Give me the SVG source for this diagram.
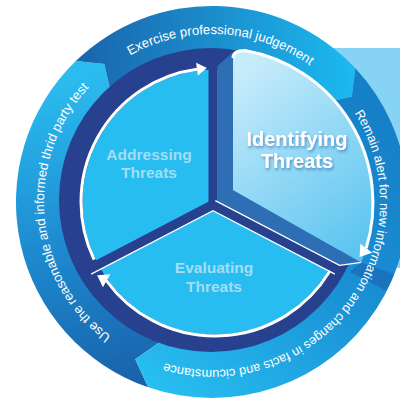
<svg xmlns="http://www.w3.org/2000/svg" width="400" height="400" viewBox="0 0 400 400">
<defs>
  <linearGradient id="gL" gradientUnits="userSpaceOnUse" x1="150" y1="380" x2="90" y2="75">
    <stop offset="0" stop-color="#1862ab"/><stop offset="0.5" stop-color="#1e8cd1"/><stop offset="1" stop-color="#2bbcef"/>
  </linearGradient>
  <linearGradient id="gT" gradientUnits="userSpaceOnUse" x1="90" y1="70" x2="350" y2="80">
    <stop offset="0" stop-color="#1a68af"/><stop offset="1" stop-color="#1cb8ef"/>
  </linearGradient>
  <linearGradient id="gR" gradientUnits="userSpaceOnUse" x1="370" y1="110" x2="150" y2="380">
    <stop offset="0" stop-color="#1580c7"/><stop offset="0.45" stop-color="#1a90d5"/><stop offset="1" stop-color="#27bef0"/>
  </linearGradient>
  <linearGradient id="gFace" gradientUnits="userSpaceOnUse" x1="235" y1="80" x2="370" y2="250">
    <stop offset="0" stop-color="#c6ebfb"/><stop offset="1" stop-color="#58c3ef"/>
  </linearGradient>
  <clipPath id="ringClip"><circle cx="212" cy="202" r="196"/></clipPath>
  <filter id="sh" x="-20%" y="-20%" width="140%" height="160%">
    <feDropShadow dx="1" dy="2" stdDeviation="1.5" flood-color="#1b5c9c" flood-opacity="0.6"/>
  </filter>
  <path id="tpL" d="M 110.9 336.2 A 168 168 0 0 1 104.0 73.3"/>
  <path id="tpT" d="M 130.0 55.4 A 168 168 0 0 1 324.4 77.2"/>
  <path id="tpR" d="M 354.5 113.0 A 168 168 0 0 1 149.1 357.8"/>
</defs>
<style>
  .ring-text{font-family:"Liberation Sans",Arial,sans-serif;font-size:13.1px;fill:#ffffff}
  .ring-text-r{font-family:"Liberation Sans",Arial,sans-serif;font-size:12.8px;fill:#ffffff}
  .sector-label{font-family:"Liberation Sans",Arial,sans-serif;font-weight:bold;font-size:15.5px;fill:#a3ddf6;text-anchor:middle}
  .id-label{font-family:"Liberation Sans",Arial,sans-serif;font-weight:bold;font-size:20px;fill:#ffffff;text-anchor:middle}
  .navy{fill:#27418f}
  .cyan{fill:#27bdf0}
  .wline{fill:none;stroke:#ffffff;stroke-width:3}
  .wthin{fill:none;stroke:#ffffff;stroke-width:1.2}
  .whead{fill:#ffffff}
</style>

<!-- light extension of the raised sector, behind the ring -->
<path d="M 328 48 H 400 V 268 L 361 262 Z" fill="#86d3f4"/>

<g id="outer-ring">
  <path d="M 148.2 387.3 A 196 196 0 0 1 75.8 61.0 L 104.3 64.1 L 111.1 93.8 A 148 148 0 0 0 161.4 341.1 L 135.3 359.3 Z" fill="url(#gL)"/>
  <path d="M 75.8 61.0 A 196 196 0 0 1 355.4 68.3 L 351.8 96.7 L 322.0 103.0 A 148 148 0 0 0 111.1 93.8 L 104.3 64.1 Z" fill="url(#gT)"/>
  <path d="M 355.4 68.3 A 196 196 0 0 1 148.2 387.3 L 135.3 359.3 L 161.4 341.1 A 148 148 0 0 0 322.0 103.0 L 351.8 96.7 Z" fill="url(#gR)"/>
  <path d="M 361 262.4 L 400 276 L 400 298 L 350 272 Z" fill="#1d3a8a" opacity="0.3" clip-path="url(#ringClip)"/>
  <text class="ring-text"><textPath href="#tpL" textLength="281" lengthAdjust="spacing">Use the reasonable and informed thrid party test</textPath></text>
  <text class="ring-text"><textPath href="#tpT" textLength="190" lengthAdjust="spacing">Exercise professional judgement</textPath></text>
  <text class="ring-text-r"><textPath href="#tpR">Remain alert for new</textPath></text>
  <text class="ring-text-r"><textPath href="#tpR" startOffset="121.6">information and changes</textPath></text>
  <text class="ring-text-r"><textPath href="#tpR" startOffset="265.4">in facts and cicumstance</textPath></text>
</g>

<g id="wheel-base">
  <circle cx="211" cy="200" r="152" class="navy"/>
  <circle cx="215" cy="202" r="132.5" class="cyan"/>
  <rect x="208.5" y="55" width="9" height="152" class="navy"/>
  <polygon points="210.7,200.6 215.3,209.4 91.1,274.1 86.5,265.3" class="navy"/>
  <polygon points="215.3,200.6 339.5,265.3 334.9,274.1 210.7,209.4" class="navy"/>
  <path d="M 91.1 274.1 L 213 210.6 L 334.9 274.1" class="wthin"/>
</g>

<g id="node-addressing">
  <text class="sector-label" x="149" y="160">Addressing</text>
  <text class="sector-label" x="149" y="178">Threats</text>
</g>

<g id="node-evaluating">
  <text class="sector-label" x="214" y="273">Evaluating</text>
  <text class="sector-label" x="214" y="292">Threats</text>
</g>

<g id="node-identifying">
  <polygon points="217.5,66 233,52 233,190 361.2,262.4 339.5,265.3 215.3,200.6 217.5,201.8" fill="#2d6eb4"/>
  <path d="M 215.3 200.6 L 339.5 265.3 L 361.2 262.4" class="wthin"/>
  <path d="M 233 190 L 233 58 Q 233 50.5 245 50.4 A 155 155 0 0 1 361.2 262.4 Z" fill="url(#gFace)"/>
  <g filter="url(#sh)">
    <text class="id-label" x="297" y="146">Identifying</text>
    <text class="id-label" x="297" y="168">Threats</text>
  </g>
</g>

<g id="connectors">
  <path d="M 94.1 259.7 A 134 134 0 0 1 197.0 69.2" class="wline"/>
  <polygon points="206.9,67.9 197.9,75.6 196.1,62.8" class="whead"/>
  <path d="M 329.2 272.0 A 134 134 0 0 1 106.6 280.8" class="wline" stroke-linecap="round"/>
  <polygon points="97.1,275.3 110.3,274.3 102.9,287.3" class="whead"/>
  <path d="M 233 58 Q 233 50.5 245 50.4 A 155 155 0 0 1 366.2 248.3" class="wline"/>
  <polygon points="359.6,257.1 372.2,252.8 360.2,243.8" class="whead"/>
</g>
</svg>
